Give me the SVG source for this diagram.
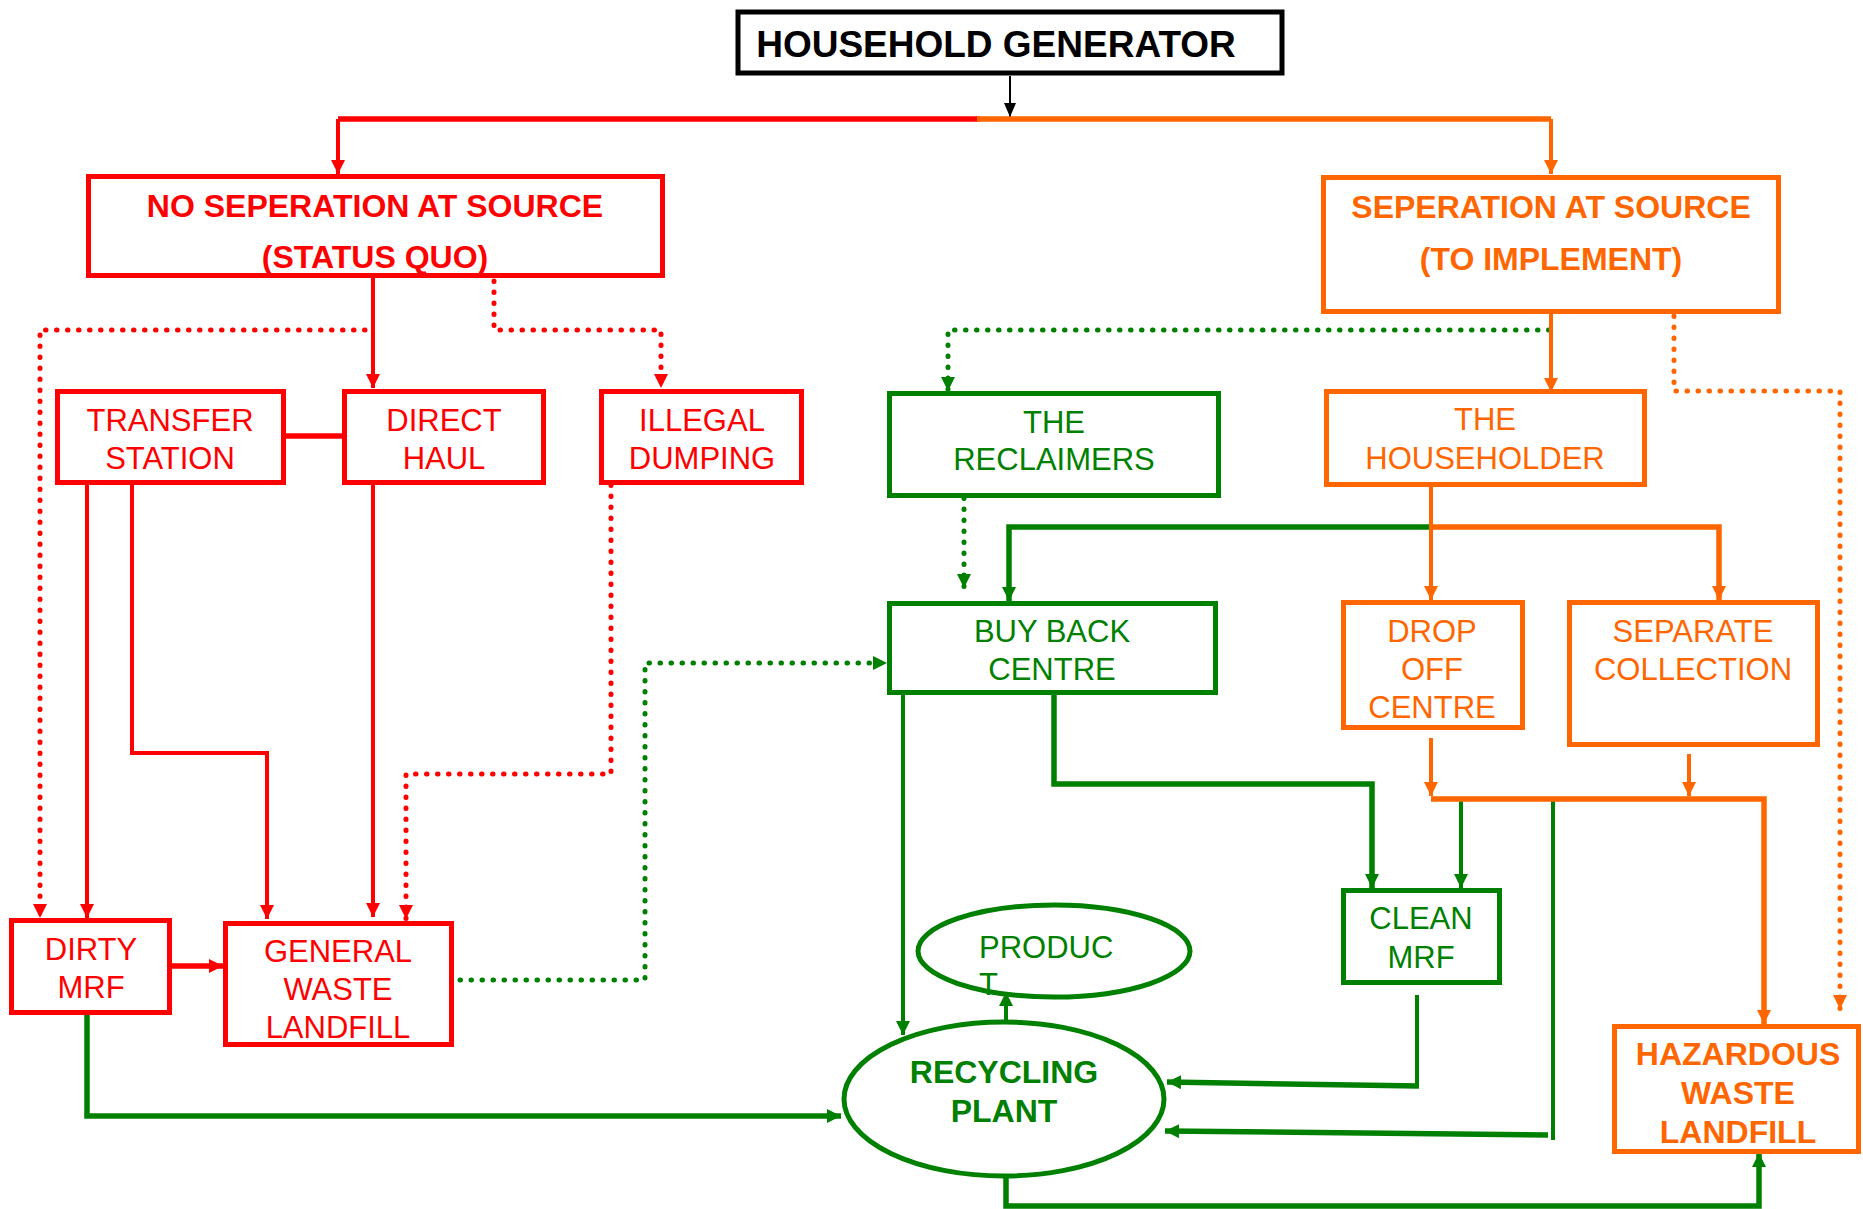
<svg xmlns="http://www.w3.org/2000/svg" width="1863" height="1209" viewBox="0 0 1863 1209">
<style>
text{font-family:"Liberation Sans",Arial,sans-serif;font-size:31px;text-anchor:middle}
.b{font-weight:bold;font-size:32px}
.r{fill:#FF0000}.o{fill:#FF6600}.g{fill:#008000}.k{fill:#000}
.box{fill:#fff;stroke-width:5}
.br{stroke:#FF0000}.bo{stroke:#FF6600}.bg{stroke:#008000}.bk{stroke:#000}
.c{fill:none;stroke-width:4;stroke-linejoin:miter}
.cr{stroke:#FF0000}.co{stroke:#FF6600}.cg{stroke:#008000}.ck{stroke:#000;stroke-width:2}
.d{stroke-dasharray:0.5 10.5;stroke-linecap:round;stroke-width:5}
.w{stroke-width:5.5}
</style>
<defs>
<marker id="aR" markerUnits="userSpaceOnUse" markerWidth="16" markerHeight="16" refX="14" refY="7" orient="auto"><path d="M0,0 L14,7 L0,14 z" fill="#FF0000"/></marker>
<marker id="aO" markerUnits="userSpaceOnUse" markerWidth="16" markerHeight="16" refX="14" refY="7" orient="auto"><path d="M0,0 L14,7 L0,14 z" fill="#FF6600"/></marker>
<marker id="aG" markerUnits="userSpaceOnUse" markerWidth="16" markerHeight="16" refX="14" refY="7" orient="auto"><path d="M0,0 L14,7 L0,14 z" fill="#008000"/></marker>
<marker id="aK" markerUnits="userSpaceOnUse" markerWidth="16" markerHeight="16" refX="14" refY="6" orient="auto"><path d="M0,0 L14,6 L0,12 z" fill="#000"/></marker>
</defs>
<rect width="1863" height="1209" fill="#fff"/>
<g id="connectors">
<path class="c ck" d="M1010,76 L1010,117" marker-end="url(#aK)"/>
<path class="c cr w" d="M338,119 L980,119"/>
<path class="c co w" d="M977,119 L1551,119"/>
<path class="c cr" d="M338,119 L338,174" marker-end="url(#aR)"/>
<path class="c co" d="M1551,119 L1551,174" marker-end="url(#aO)"/>
<path class="c cr" d="M373,278 L373,388" marker-end="url(#aR)"/>
<path class="c cr d" d="M365,330 L40,330 L40,918" marker-end="url(#aR)"/>
<path class="c cr d" d="M494,281 L494,330 L661,330 L661,388" marker-end="url(#aR)"/>
<path class="c cr w" d="M286,436 L342,436"/>
<path class="c cr" d="M87,485 L87,918" marker-end="url(#aR)"/>
<path class="c cr" d="M132,485 L132,753 L267,753 L267,919" marker-end="url(#aR)"/>
<path class="c cr" d="M373,485 L373,917" marker-end="url(#aR)"/>
<path class="c cr d" d="M611,485 L611,774 L406,774 L406,919" marker-end="url(#aR)"/>
<path class="c cr w" d="M172,966 L223,966" marker-end="url(#aR)"/>
<path class="c cg d" d="M449,980 L645,980 L645,663 L887,663" marker-end="url(#aG)"/>
<path class="c cg d" d="M1549,330 L948,330 L948,391" marker-end="url(#aG)"/>
<path class="c cg d" d="M964,498 L964,588" marker-end="url(#aG)"/>
<path class="c cg w" d="M1431,527 L1009,527 L1009,601" marker-end="url(#aG)"/>
<path class="c cg" d="M903,695 L903,1035" marker-end="url(#aG)"/>
<path class="c cg w" d="M1054,695 L1054,784 L1372,784 L1372,888" marker-end="url(#aG)"/>
<path class="c cg" d="M1461,799 L1461,888" marker-end="url(#aG)"/>
<path class="c cg" d="M1553,799 L1553,1140"/>
<path class="c cg w" d="M1548,1135 L1165,1131" marker-end="url(#aG)"/>
<path class="c cg" d="M1417,995 L1417,1086"/>
<path class="c cg w" d="M1419,1086 L1167,1082" marker-end="url(#aG)"/>
<path class="c cg w" d="M87,1015 L87,1116 L841,1116" marker-end="url(#aG)"/>
<path class="c cg" d="M1006,1021 L1006,992" marker-end="url(#aG)"/>
<path class="c cg w" d="M1006,1177 L1006,1206 L1759,1206 L1759,1153" marker-end="url(#aG)"/>
<path class="c co" d="M1551,314 L1551,392" marker-end="url(#aO)"/>
<path class="c co d" d="M1674,316 L1674,391 L1840,391 L1840,1009" marker-end="url(#aO)"/>
<path class="c co" d="M1431,487 L1431,600" marker-end="url(#aO)"/>
<path class="c co w" d="M1431,527 L1719,527 L1719,600" marker-end="url(#aO)"/>
<path class="c co" d="M1431,738 L1431,796" marker-end="url(#aO)"/>
<path class="c co" d="M1689,754 L1689,796" marker-end="url(#aO)"/>
<path class="c co w" d="M1431,799 L1764,799 L1764,1024" marker-end="url(#aO)"/>
</g>
<g id="household-generator"><rect class="box bk" x="738" y="12" width="544" height="61" stroke-width="6"/><text class="b k" x="996" y="57" style="font-size:37px">HOUSEHOLD GENERATOR</text></g>
<g id="no-separation"><rect class="box br" x="88.5" y="176.5" width="574" height="99"/><text class="b r" x="375" y="217">NO SEPERATION AT SOURCE</text><text class="b r" x="375" y="268">(STATUS QUO)</text></g>
<g id="separation"><rect class="box bo" x="1323.5" y="177.5" width="455" height="134"/><text class="b o" x="1551" y="218">SEPERATION AT SOURCE</text><text class="b o" x="1551" y="270">(TO IMPLEMENT)</text></g>
<g id="transfer-station"><rect class="box br" x="57.5" y="391.5" width="226" height="91"/><text class="r" x="170" y="431">TRANSFER</text><text class="r" x="170" y="469">STATION</text></g>
<g id="direct-haul"><rect class="box br" x="344.5" y="391.5" width="199" height="91"/><text class="r" x="444" y="431">DIRECT</text><text class="r" x="444" y="469">HAUL</text></g>
<g id="illegal-dumping"><rect class="box br" x="601.5" y="391.5" width="200" height="91"/><text class="r" x="702" y="431">ILLEGAL</text><text class="r" x="702" y="469">DUMPING</text></g>
<g id="reclaimers"><rect class="box bg" x="889.5" y="393.5" width="329" height="102"/><text class="g" x="1054" y="433">THE</text><text class="g" x="1054" y="470">RECLAIMERS</text></g>
<g id="householder"><rect class="box bo" x="1326.5" y="391.5" width="318" height="93"/><text class="o" x="1485" y="430">THE</text><text class="o" x="1485" y="469">HOUSEHOLDER</text></g>
<g id="buy-back-centre"><rect class="box bg" x="889.5" y="603.5" width="326" height="89"/><text class="g" x="1052" y="642">BUY BACK</text><text class="g" x="1052" y="680">CENTRE</text></g>
<g id="drop-off-centre"><rect class="box bo" x="1343.5" y="602.5" width="179" height="125"/><text class="o" x="1432" y="642">DROP</text><text class="o" x="1432" y="680">OFF</text><text class="o" x="1432" y="718">CENTRE</text></g>
<g id="separate-collection"><rect class="box bo" x="1569.5" y="602.5" width="248" height="142"/><text class="o" x="1693" y="642">SEPARATE</text><text class="o" x="1693" y="680">COLLECTION</text></g>
<g id="dirty-mrf"><rect class="box br" x="11.5" y="920.5" width="158" height="92"/><text class="r" x="91" y="960">DIRTY</text><text class="r" x="91" y="998">MRF</text></g>
<g id="general-waste-landfill"><rect class="box br" x="225.5" y="923.5" width="226" height="121"/><text class="r" x="338" y="962">GENERAL</text><text class="r" x="338" y="1000">WASTE</text><text class="r" x="338" y="1038">LANDFILL</text></g>
<g id="clean-mrf"><rect class="box bg" x="1343.5" y="890.5" width="156" height="92"/><text class="g" x="1421" y="929">CLEAN</text><text class="g" x="1421" y="968">MRF</text></g>
<g id="product"><ellipse cx="1054" cy="951" rx="136" ry="46" fill="#fff" stroke="#008000" stroke-width="5"/><text class="g" x="979" y="958" style="text-anchor:start">PRODUC</text><text class="g" x="979" y="995" style="text-anchor:start">T</text></g>
<g id="recycling-plant"><ellipse cx="1004" cy="1099" rx="160" ry="77" fill="#fff" stroke="#008000" stroke-width="5"/><text class="b g" x="1004" y="1083">RECYCLING</text><text class="b g" x="1004" y="1122">PLANT</text></g>
<g id="hazardous-waste-landfill"><rect class="box bo" x="1614.5" y="1026.5" width="244" height="125"/><text class="b o" x="1738" y="1065">HAZARDOUS</text><text class="b o" x="1738" y="1104">WASTE</text><text class="b o" x="1738" y="1143">LANDFILL</text></g>
</svg>
